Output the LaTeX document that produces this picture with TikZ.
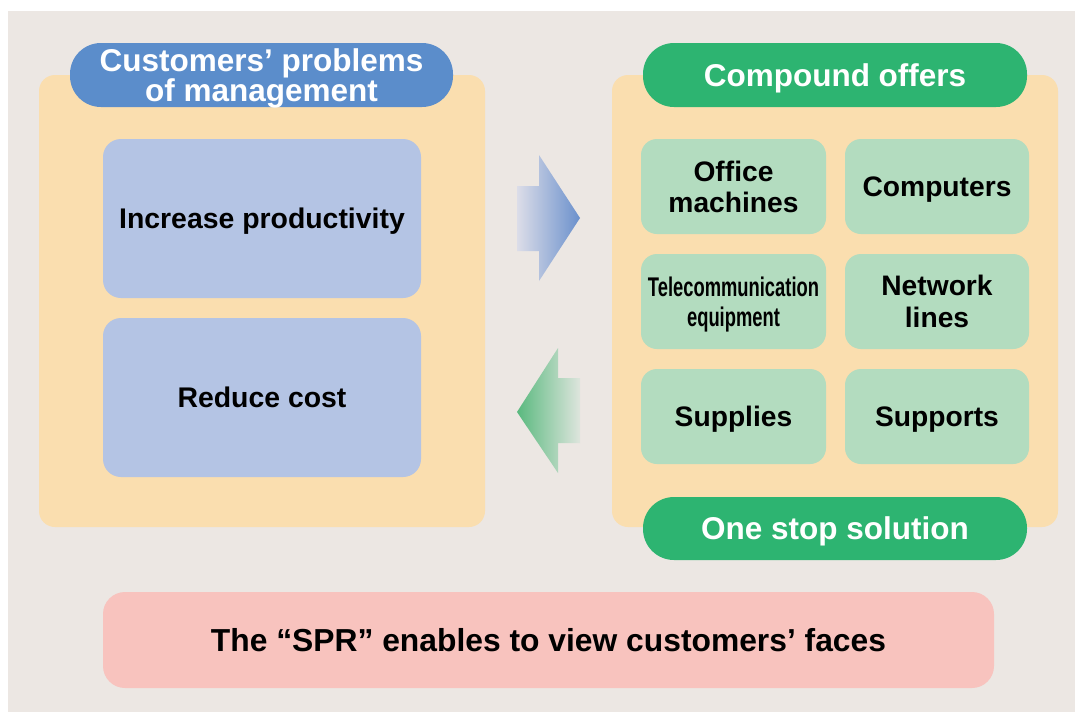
\documentclass[tikz,border=0pt]{standalone}
\usepackage{fontspec}
\setmainfont{Liberation Sans}
\newfontfamily\estrecha[FakeStretch=0.68]{Liberation Sans}
\usetikzlibrary{positioning}
\definecolor{Fondo}{HTML}{ECE7E3}
\definecolor{Panel}{HTML}{FADEAF}
\definecolor{AzulTitulo}{HTML}{5B8DCB}
\definecolor{AzulCaja}{HTML}{B4C4E4}
\definecolor{VerdeTitulo}{HTML}{2DB471}
\definecolor{VerdeCaja}{HTML}{B3DCBF}
\definecolor{Rosa}{HTML}{F8C3BE}
\definecolor{AzulClaro}{HTML}{DCDDE8}
\definecolor{AzulFlecha}{HTML}{6A90CC}
\definecolor{VerdeClaro}{HTML}{DEE5DD}
\definecolor{VerdeFlecha}{HTML}{5AB97F}

\begin{document}
\begin{tikzpicture}[x=1pt,y=-1pt,
    panel/.style={fill=Panel,rounded corners=16pt,minimum width=446pt,minimum height=452pt},
    titulo/.style={text=white,rounded corners=31pt,minimum width=384pt,minimum height=64pt,inner sep=0pt,text depth=0pt,align=center,font=\bfseries\fontsize{31.5}{28}\selectfont},
    cajaazul/.style={fill=AzulCaja,rounded corners=18pt,minimum width=318pt,minimum height=159pt,inner sep=0pt,text depth=0pt,align=center,font=\bfseries\fontsize{28.4}{31}\selectfont},
    cajaverde/.style={fill=VerdeCaja,rounded corners=16pt,minimum width=185pt,minimum height=95pt,inner sep=0pt,text depth=0pt,align=center,font=\bfseries\fontsize{28.2}{31}\selectfont}]
  \useasboundingbox (0,0) rectangle (1075,712);
  \fill[Fondo] (8,11) rectangle (1075,712);
  % paneles
  \node[panel] (izq) at (262,301) {};
  \node[panel] (der) at (835,301) {};
  \node[titulo,fill=AzulTitulo,minimum width=383pt] (problemas) at (261.5,75) {Customers’ problems\\of management};
  \node[titulo,fill=VerdeTitulo] (ofertas) at (835,75) {Compound offers};
  \node[titulo,fill=VerdeTitulo,minimum height=63pt] (solucion) at (835,528.5) {One stop solution};
  % problemas de gestion
  \node[cajaazul] (productividad) at (262,218.5) {Increase productivity};
  \node[cajaazul] (coste) at (262,397.5) {Reduce cost};
  % ofertas
  \node[cajaverde] (oficina) at (733.5,186.5) {Office\\machines};
  \node[cajaverde,minimum width=184pt] (ordenadores) at (937,186.5) {Computers};
  \node[cajaverde,font=\bfseries\estrecha\fontsize{27}{30}\selectfont] (telecom) at (733.5,301.5) {Telecommunication\\equipment};
  \node[cajaverde,minimum width=184pt,font=\bfseries\fontsize{28.2}{32}\selectfont] (redes) at (937,301.5) {Network\\lines};
  \node[cajaverde] (suministros) at (733.5,416.5) {Supplies};
  \node[cajaverde,minimum width=184pt] (soporte) at (937,416.5) {Supports};
  % flechas
  \shade[left color=AzulClaro,right color=AzulFlecha] (517,186) -- (539,186) -- (539,155) -- (580,218) -- (539,281) -- (539,251) -- (517,251) -- cycle;
  \shade[left color=VerdeFlecha,right color=VerdeClaro] (580,378) -- (558,378) -- (558,348) -- (517,412) -- (558,473) -- (558,443) -- (580,443) -- cycle;
  % pie
  \node[fill=Rosa,rounded corners=22pt,minimum width=891pt,minimum height=96pt,inner sep=0pt,font=\bfseries\fontsize{31.8}{34}\selectfont] (spr) at (548.5,640) {The “SPR” enables to view customers’ faces};
\end{tikzpicture}
\end{document}
